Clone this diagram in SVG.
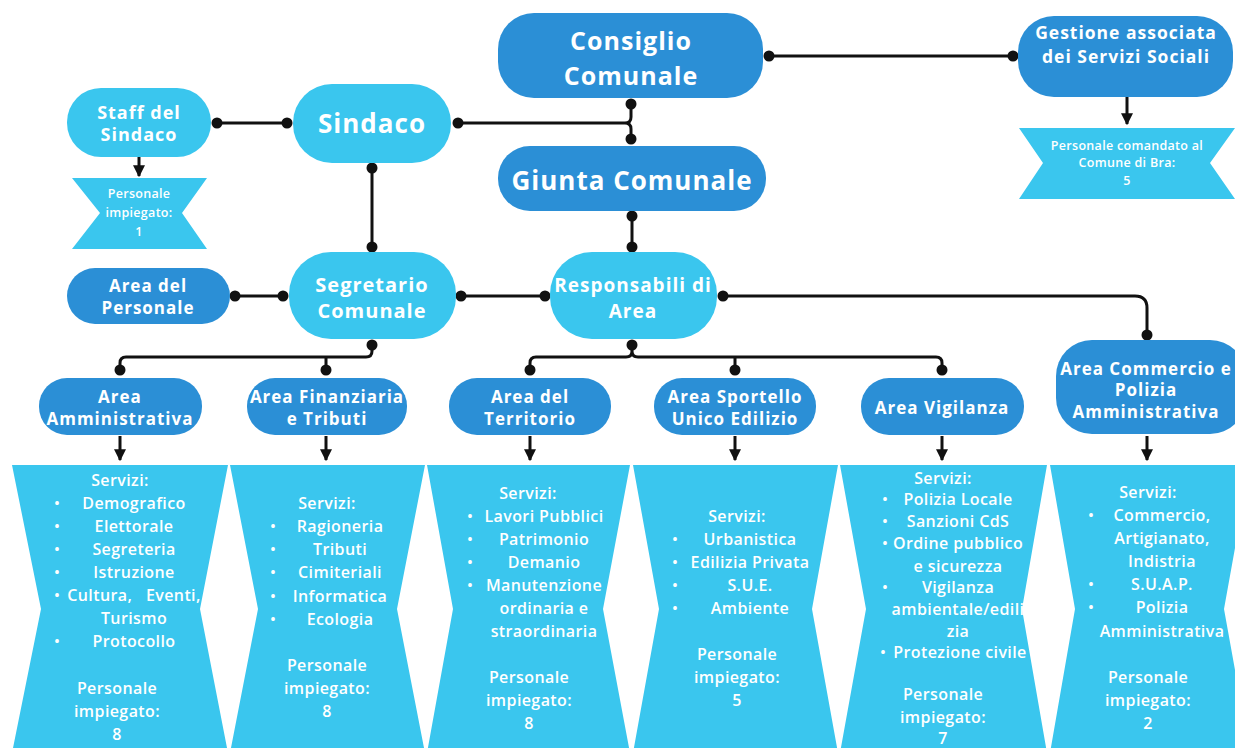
<svg xmlns="http://www.w3.org/2000/svg" width="1235" height="748" viewBox="0 0 1235 748">
<defs>
<style>
.light{fill:#3AC6EE}
.dark{fill:#2B8FD6}
.nt{font-family:"Open Sans","Noto Sans",sans-serif;font-weight:700;fill:#fff;text-anchor:middle;letter-spacing:1px}
.at{font-size:17px}
.pt{font-family:"Open Sans","Noto Sans",sans-serif;font-weight:600;fill:#fff;text-anchor:middle;font-size:16px;letter-spacing:0.4px}
.st{font-family:"Open Sans","Noto Sans",sans-serif;font-weight:600;fill:#fff;text-anchor:middle;font-size:12.5px;letter-spacing:0.3px}
.b{font-family:"Open Sans",sans-serif;font-weight:700;fill:#fff;text-anchor:middle;font-size:13px}
.ln{fill:none;stroke:#111;stroke-width:3}
.dot{fill:#111}
</style>
<marker id="arr" viewBox="0 0 10 10" refX="9" refY="5" markerWidth="4" markerHeight="4" orient="auto" markerUnits="strokeWidth">
<path d="M0,0 L10,5 L0,10 Z" fill="#111"/>
</marker>
</defs>
<rect width="1235" height="748" fill="#fff"/>

<g id="connectors">
<path class="ln" d="M217,123 H287"/>
<path class="ln" d="M458,123 H625 Q631,123 631,117 V104 M625,123 Q631,123 631,129 V139"/>
<path class="ln" d="M769,56 H1013"/>
<path class="ln" d="M1127,97 V124" marker-end="url(#arr)"/>
<path class="ln" d="M139,157 V176" marker-end="url(#arr)"/>
<path class="ln" d="M372,168 V247"/>
<path class="ln" d="M632,216 V247"/>
<path class="ln" d="M235,296 H283"/>
<path class="ln" d="M461,296 H545"/>
<path class="ln" d="M723,296 H1135 Q1147,296 1147,308 V335"/>
<path class="ln" d="M372,345 V351 Q372,357 366,357 H126 Q120,357 120,363 V370 M326,357 V370"/>
<path class="ln" d="M632,345 V351 Q632,357 626,357 H536 Q530,357 530,363 V370 M632,351 Q632,357 638,357 H936 Q942,357 942,363 V370 M735,357 V370"/>
<path class="ln" d="M120,436 V460" marker-end="url(#arr)"/>
<path class="ln" d="M326,436 V460" marker-end="url(#arr)"/>
<path class="ln" d="M530,436 V460" marker-end="url(#arr)"/>
<path class="ln" d="M735,436 V460" marker-end="url(#arr)"/>
<path class="ln" d="M942,436 V460" marker-end="url(#arr)"/>
<path class="ln" d="M1147,436 V460" marker-end="url(#arr)"/>
<g class="dot">
<circle cx="217" cy="123" r="5.5"/><circle cx="287" cy="123" r="5.5"/>
<circle cx="458" cy="123" r="5.5"/><circle cx="631" cy="104" r="5.5"/><circle cx="631" cy="139" r="5.5"/>
<circle cx="769" cy="56" r="5.5"/><circle cx="1013" cy="56" r="5.5"/>
<circle cx="372" cy="168" r="5.5"/><circle cx="372" cy="247" r="5.5"/>
<circle cx="632" cy="216" r="5.5"/><circle cx="632" cy="247" r="5.5"/>
<circle cx="235" cy="296" r="5.5"/><circle cx="283" cy="296" r="5.5"/>
<circle cx="461" cy="296" r="5.5"/><circle cx="545" cy="296" r="5.5"/>
<circle cx="723" cy="296" r="5.5"/><circle cx="1147" cy="335" r="5.5"/>
<circle cx="372" cy="345" r="5.5"/><circle cx="120" cy="370" r="5.5"/><circle cx="326" cy="370" r="5.5"/>
<circle cx="632" cy="345" r="5.5"/><circle cx="530" cy="370" r="5.5"/><circle cx="735" cy="370" r="5.5"/><circle cx="942" cy="370" r="5.5"/>
</g>
</g>

<g id="consiglio">
<rect class="dark" x="498" y="13" width="265" height="85" rx="36"/>
<text class="nt" x="631" y="50" font-size="25" letter-spacing="1.6">Consiglio</text>
<text class="nt" x="631" y="85" font-size="25" letter-spacing="1.6">Comunale</text>
</g>
<g id="giunta">
<rect class="dark" x="498" y="146" width="268" height="65" rx="32"/>
<text class="nt" x="632" y="190" font-size="26" letter-spacing="1.3">Giunta Comunale</text>
</g>
<g id="sindaco">
<rect class="light" x="293" y="84" width="158" height="79" rx="39"/>
<text class="nt" x="372" y="133" font-size="26">Sindaco</text>
</g>
<g id="staff">
<rect class="light" x="67" y="88" width="144" height="69" rx="34"/>
<text class="nt" x="139" y="119" font-size="18">Staff del</text>
<text class="nt" x="139" y="141" font-size="18">Sindaco</text>
</g>
<g id="staff-personale">
<polygon class="light" points="72,178 207,178 182,213 207,249 72,249 100,213"/>
<text class="st" x="139" y="198">Personale</text>
<text class="st" x="139" y="217">impiegato:</text>
<text class="st" x="139" y="236">1</text>
</g>
<g id="gestione">
<rect class="dark" x="1018" y="16" width="215" height="81" rx="36"/>
<text class="nt" x="1126" y="39" font-size="17.5" letter-spacing="0.8">Gestione associata</text>
<text class="nt" x="1126" y="63" font-size="17.5" letter-spacing="0.8">dei Servizi Sociali</text>
</g>
<g id="gestione-personale">
<polygon class="light" points="1019,128 1235,128 1210,163 1235,199 1019,199 1043,163"/>
<text class="st" x="1127" y="150">Personale comandato al</text>
<text class="st" x="1127" y="167">Comune di Bra:</text>
<text class="st" x="1127" y="185">5</text>
</g>
<g id="segretario">
<rect class="light" x="289" y="252" width="167" height="87" rx="42"/>
<text class="nt" x="372" y="292" font-size="20" letter-spacing="0.8">Segretario</text>
<text class="nt" x="372" y="318" font-size="20" letter-spacing="0.8">Comunale</text>
</g>
<g id="responsabili">
<rect class="light" x="550" y="252" width="167" height="87" rx="42"/>
<text class="nt" x="633" y="292" font-size="19" letter-spacing="0.3">Responsabili di</text>
<text class="nt" x="633" y="318" font-size="19" letter-spacing="0.3">Area</text>
</g>
<g id="area-personale">
<rect class="dark" x="67" y="268" width="163" height="56" rx="28"/>
<text class="nt at" x="148" y="292">Area del</text>
<text class="nt at" x="148" y="314">Personale</text>
</g>
<g id="area-amministrativa">
<rect class="dark" x="39" y="378" width="163" height="57" rx="28"/>
<text class="nt at" x="120" y="403">Area</text>
<text class="nt at" x="120" y="425" letter-spacing="0.6">Amministrativa</text>
</g>
<g id="area-finanziaria">
<rect class="dark" x="247" y="378" width="160" height="57" rx="28"/>
<text class="nt at" x="327" y="403">Area Finanziaria</text>
<text class="nt at" x="327" y="425">e Tributi</text>
</g>
<g id="area-territorio">
<rect class="dark" x="449" y="378" width="162" height="57" rx="28"/>
<text class="nt at" x="530" y="403">Area del</text>
<text class="nt at" x="530" y="425">Territorio</text>
</g>
<g id="area-sportello">
<rect class="dark" x="654" y="378" width="162" height="57" rx="28"/>
<text class="nt at" x="735" y="403">Area Sportello</text>
<text class="nt at" x="735" y="425">Unico Edilizio</text>
</g>
<g id="area-vigilanza">
<rect class="dark" x="861" y="378" width="163" height="57" rx="28"/>
<text class="nt at" x="942" y="414">Area Vigilanza</text>
</g>
<g id="area-commercio">
<rect class="dark" x="1056" y="340" width="190" height="94" rx="36"/>
<text class="nt at" x="1146" y="375">Area Commercio e</text>
<text class="nt at" x="1146" y="396">Polizia</text>
<text class="nt at" x="1146" y="418" letter-spacing="0.6">Amministrativa</text>
</g>

<g id="servizi-amministrativa">
<polygon class="light" points="12,465 228,465 200,609 228,753 12,753 41,609"/>
<text class="pt" x="120" y="486">Servizi:</text>
<text class="b" x="57" y="508">•</text><text class="pt" x="134" y="509">Demografico</text>
<text class="b" x="57" y="531">•</text><text class="pt" x="134" y="532">Elettorale</text>
<text class="b" x="57" y="554">•</text><text class="pt" x="134" y="555">Segreteria</text>
<text class="b" x="57" y="577">•</text><text class="pt" x="134" y="578">Istruzione</text>
<text class="b" x="57" y="600">•</text><text class="pt" x="134" y="601" xml:space="preserve">Cultura,   Eventi,</text>
<text class="pt" x="134" y="624">Turismo</text>
<text class="b" x="57" y="646">•</text><text class="pt" x="134" y="647">Protocollo</text>
<text class="pt" x="117" y="694">Personale</text>
<text class="pt" x="117" y="717">impiegato:</text>
<text class="pt" x="117" y="740">8</text>
</g>
<g id="servizi-finanziaria">
<polygon class="light" points="230,465 425,465 397,609 425,753 230,753 258,609"/>
<text class="pt" x="327" y="509">Servizi:</text>
<text class="b" x="273" y="531">•</text><text class="pt" x="340" y="532">Ragioneria</text>
<text class="b" x="273" y="554">•</text><text class="pt" x="340" y="555">Tributi</text>
<text class="b" x="273" y="577">•</text><text class="pt" x="340" y="578">Cimiteriali</text>
<text class="b" x="273" y="601">•</text><text class="pt" x="340" y="602">Informatica</text>
<text class="b" x="273" y="624">•</text><text class="pt" x="340" y="625">Ecologia</text>
<text class="pt" x="327" y="671">Personale</text>
<text class="pt" x="327" y="694">impiegato:</text>
<text class="pt" x="327" y="717">8</text>
</g>
<g id="servizi-territorio">
<polygon class="light" points="427,465 630,465 603,609 630,753 427,753 453,609"/>
<text class="pt" x="528" y="499">Servizi:</text>
<text class="b" x="470" y="521">•</text><text class="pt" x="544" y="522">Lavori Pubblici</text>
<text class="b" x="470" y="544">•</text><text class="pt" x="544" y="545">Patrimonio</text>
<text class="b" x="470" y="567">•</text><text class="pt" x="544" y="568">Demanio</text>
<text class="b" x="470" y="590">•</text><text class="pt" x="544" y="591">Manutenzione</text>
<text class="pt" x="544" y="614">ordinaria e</text>
<text class="pt" x="544" y="637">straordinaria</text>
<text class="pt" x="529" y="683">Personale</text>
<text class="pt" x="529" y="706">impiegato:</text>
<text class="pt" x="529" y="729">8</text>
</g>
<g id="servizi-sportello">
<polygon class="light" points="633,465 838,465 812,609 838,753 633,753 659,609"/>
<text class="pt" x="737" y="522">Servizi:</text>
<text class="b" x="675" y="544">•</text><text class="pt" x="750" y="545">Urbanistica</text>
<text class="b" x="675" y="567">•</text><text class="pt" x="750" y="568">Edilizia Privata</text>
<text class="b" x="675" y="590">•</text><text class="pt" x="750" y="591">S.U.E.</text>
<text class="b" x="675" y="613">•</text><text class="pt" x="750" y="614">Ambiente</text>
<text class="pt" x="737" y="660">Personale</text>
<text class="pt" x="737" y="683">impiegato:</text>
<text class="pt" x="737" y="706">5</text>
</g>
<g id="servizi-vigilanza">
<polygon class="light" points="840,465 1047,465 1022,609 1047,753 840,753 866,609"/>
<text class="pt" x="943" y="484">Servizi:</text>
<text class="b" x="885" y="504">•</text><text class="pt" x="958" y="505">Polizia Locale</text>
<text class="b" x="885" y="526">•</text><text class="pt" x="958" y="527">Sanzioni CdS</text>
<text class="b" x="885" y="548">•</text><text class="pt" x="958" y="549">Ordine pubblico</text>
<text class="pt" x="958" y="572">e sicurezza</text>
<text class="b" x="885" y="592">•</text><text class="pt" x="958" y="593">Vigilanza</text>
<text class="pt" x="958" y="615">ambientale/edili</text>
<text class="pt" x="958" y="637">zia</text>
<text class="b" x="883" y="657">•</text><text class="pt" x="960" y="658" letter-spacing="0">Protezione civile</text>
<text class="pt" x="943" y="700">Personale</text>
<text class="pt" x="943" y="723">impiegato:</text>
<text class="pt" x="943" y="744">7</text>
</g>
<g id="servizi-commercio">
<polygon class="light" points="1050,465 1250,465 1224,609 1250,753 1050,753 1075,609"/>
<text class="pt" x="1148" y="498">Servizi:</text>
<text class="b" x="1091" y="520">•</text><text class="pt" x="1162" y="521">Commercio,</text>
<text class="pt" x="1162" y="544">Artigianato,</text>
<text class="pt" x="1162" y="567">Indistria</text>
<text class="b" x="1091" y="589">•</text><text class="pt" x="1162" y="590">S.U.A.P.</text>
<text class="b" x="1091" y="612">•</text><text class="pt" x="1162" y="613">Polizia</text>
<text class="pt" x="1162" y="637">Amministrativa</text>
<text class="pt" x="1148" y="683">Personale</text>
<text class="pt" x="1148" y="706">impiegato:</text>
<text class="pt" x="1148" y="729">2</text>
</g>
</svg>
